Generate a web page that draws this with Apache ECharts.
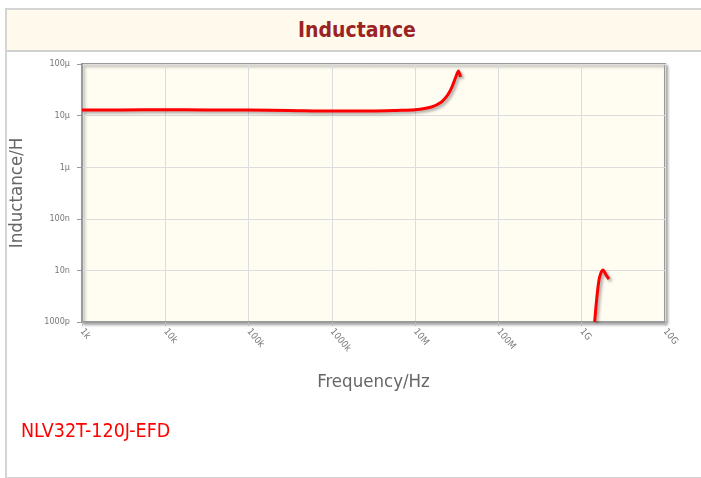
<!DOCTYPE html>
<html>
<head>
<meta charset="utf-8">
<script src="https://cdn.jsdelivr.net/npm/echarts@6/dist/echarts.min.js"></script>
<style>
  html, body { margin: 0; padding: 0; background: #fff; }
  body { width: 701px; height: 478px; position: relative; overflow: hidden; font-family: 'DejaVu Sans Condensed', 'DejaVu Sans', sans-serif; }
  .frame { position: absolute; left: 5px; top: 8px; width: 720px; height: 467px; border: 2px solid #d4d4d4; border-right: none; }
  .head { position: absolute; left: 0; top: 0; right: 0; height: 40px; background: #fffaec; border-bottom: 2px solid #cfcfcf; }
  .head span { position: absolute; left: 291px; top: 0; line-height: 40px; font-size: 21px; font-weight: bold; color: #9b2323; }
  #chart { position: absolute; left: 0; top: 0; width: 701px; height: 478px; }
  .part { position: absolute; left: 21px; top: 419px; font-size: 19.5px; color: #ff0000; }
</style>
</head>
<body>
<div class="frame"><div class="head"><span>Inductance</span></div></div>
<div id="chart"></div>
<div class="part">NLV32T-120J-EFD</div>
<script>
// tick labels
const xTickLabels = ['1k', '10k', '100k', '1000k', '10M', '100M', '1G', '10G']
const yTickLabels = ['1000p', '10n', '100n', '1µ', '10µ', '100µ']

// measured curve, low-frequency branch (Hz, H)
const freq1 = [1e3, 3e3, 1e4, 3e4, 1e5, 3e5, 1e6, 3e6, 6e6, 1e7, 1.57e7, 2.07e7, 2.45e7, 2.73e7, 3.05e7, 3.31e7, 3.5e7]
const ind1 = [12.9e-6, 12.9e-6, 13.0e-6, 12.9e-6, 12.8e-6, 12.6e-6, 12.3e-6, 12.3e-6, 12.6e-6, 13.0e-6, 14.7e-6, 18.4e-6, 25e-6, 34e-6, 54e-6, 73e-6, 56e-6]

// high-frequency branch
const freq2 = [1.43e9, 1.54e9, 1.64e9, 1.8e9, 1.97e9, 2.12e9]
const ind2 = [1.0e-9, 3.65e-9, 7.4e-9, 10.2e-9, 8.1e-9, 6.8e-9]

const chart = echarts.init(document.getElementById('chart'))

const lineStyle = {
  color: '#ff0000',
  width: 3,
  shadowColor: 'rgba(0,0,0,0.35)',
  shadowBlur: 3,
  shadowOffsetX: 2,
  shadowOffsetY: 2,
}

chart.setOption({
  animation: false,
  textStyle: { fontFamily: "'DejaVu Sans Condensed', 'DejaVu Sans', sans-serif" },
  grid: {
    left: 80,
    right: 36,
    top: 64,
    bottom: 156,
    show: true,
    backgroundColor: '#fffcf2',
    borderColor: '#9a9a9a',
    borderWidth: 2,
    shadowColor: 'rgba(0,0,0,0.3)',
    shadowBlur: 3,
    shadowOffsetX: 2,
    shadowOffsetY: 2,
  },
  xAxis: {
    type: 'log',
    logBase: 10,
    min: 1e3,
    max: 1e10,
    name: 'Frequency/Hz',
    nameLocation: 'middle',
    nameGap: 51,
    nameTextStyle: { fontSize: 18.5, color: '#666' },
    axisLine: { show: true, lineStyle: { color: '#9a9a9a', width: 2 } },
    axisTick: { show: true, length: 4, lineStyle: { color: '#bbb' } },
    axisLabel: {
      rotate: -50,
      margin: 8,
      fontSize: 9.5,
      color: '#777',
      formatter: v => xTickLabels[Math.round(Math.log10(v)) - 3],
    },
    splitLine: { show: true, lineStyle: { color: '#dcdcdc', width: 1 } },
  },
  yAxis: {
    type: 'log',
    logBase: 10,
    min: 1e-9,
    max: 1e-4,
    name: 'Inductance/H',
    nameLocation: 'middle',
    nameGap: 55,
    nameTextStyle: { fontSize: 18.5, color: '#666' },
    axisLine: { show: true, lineStyle: { color: '#9a9a9a', width: 2 } },
    axisTick: { show: true, length: 5, lineStyle: { color: '#9a9a9a' } },
    axisLabel: {
      margin: 12,
      fontSize: 9,
      color: '#777',
      formatter: v => yTickLabels[Math.round(Math.log10(v)) + 9],
    },
    splitLine: { show: true, lineStyle: { color: '#dcdcdc', width: 1 } },
  },
  series: [
    {
      type: 'line',
      smooth: 0.3,
      showSymbol: false,
      lineStyle: lineStyle,
      data: freq1.map((f, i) => [f, ind1[i]]),
    },
    {
      type: 'line',
      smooth: 0.3,
      showSymbol: false,
      lineStyle: lineStyle,
      data: freq2.map((f, i) => [f, ind2[i]]),
    },
  ],
})
</script>
</body>
</html>
